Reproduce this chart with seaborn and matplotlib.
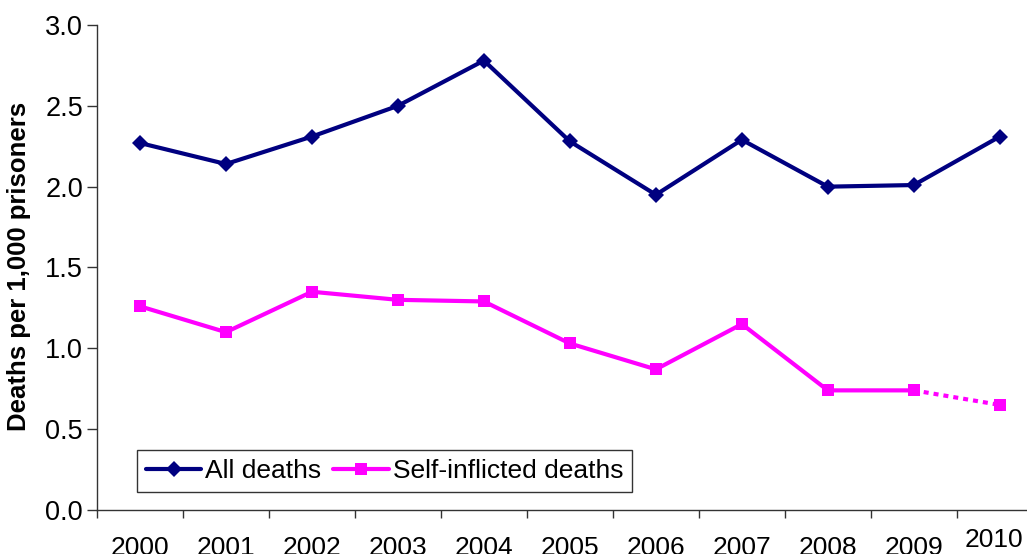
import matplotlib
matplotlib.use("Agg")
import matplotlib.pyplot as plt
import seaborn as sns
import pandas as pd
from matplotlib.lines import Line2D
from matplotlib.ticker import FixedLocator, NullFormatter
import matplotlib.transforms as mtransforms

# Deaths in custody per 1,000 prisoners
years = ["2000", "2001", "2002", "2003", "2004", "2005", "2006", "2007", "2008", "2009", "2010"]
all_deaths = [2.27, 2.14, 2.31, 2.50, 2.78, 2.28, 1.95, 2.29, 2.00, 2.01, 2.31]
self_inflicted = [1.26, 1.10, 1.35, 1.30, 1.29, 1.03, 0.87, 1.15, 0.74, 0.74, 0.65]

NAVY = "#000080"
MAGENTA = "#FF00FF"

sns.set_theme(style="white")
plt.rcParams["font.family"] = ["Liberation Sans", "DejaVu Sans"]

pos = list(range(len(years)))
df = pd.DataFrame({"pos": pos, "year": years,
                   "all": all_deaths, "self": self_inflicted})

fig = plt.figure(figsize=(10.27, 5.54), dpi=100)
ax = fig.add_axes([0.0944, 0.0794, 0.921, 0.8755])

# All deaths: solid line with diamonds
sns.lineplot(data=df, x="pos", y="all", ax=ax, color=NAVY, lw=3,
             marker="D", markersize=8, markeredgewidth=0, legend=False)

# Self-inflicted deaths: solid up to 2009, dotted to the provisional 2010 value
solid = df.iloc[:-1]
tail = df.iloc[-2:]
sns.lineplot(data=solid, x="pos", y="self", ax=ax, color=MAGENTA, lw=3,
             marker="s", markersize=8.5, markeredgewidth=0, legend=False)
sns.lineplot(data=tail, x="pos", y="self", ax=ax, color=MAGENTA, lw=3,
             linestyle=(0, (1.2, 1.2)), legend=False)
ax.plot(tail["pos"].iloc[-1:], tail["self"].iloc[-1:], ls="none", marker="s",
        markersize=8.5, markeredgewidth=0, color=MAGENTA)

ax.set_xlim(-0.5, len(years) - 0.5)
ax.set_ylim(0, 3.0)
yt = [0.0, 0.5, 1.0, 1.5, 2.0, 2.5, 3.0]
ax.set_yticks(yt)
ax.set_yticklabels([f"{v:.1f}" for v in yt])

# Category labels centred, tick marks between categories
ax.set_xticks(pos)
ax.set_xticklabels(years)
ax.xaxis.set_minor_locator(FixedLocator([p + 0.5 for p in pos[:-1]] + [-0.5]))
ax.xaxis.set_minor_formatter(NullFormatter())
ax.tick_params(axis="x", which="major", length=0, pad=19, labelsize=19,
               colors="black")
ax.tick_params(axis="x", which="minor", length=6, width=1, color="#333333",
               direction="out", bottom=True)
ax.tick_params(axis="y", which="major", length=7, width=1, color="#333333",
               direction="out", left=True, pad=3, labelsize=19.5, labelcolor="black")

# the last year label sits a little higher and is nudged in from the edge
lbl = ax.get_xticklabels()[-1]
lbl.set_transform(lbl.get_transform() +
                  mtransforms.ScaledTranslation(-6 / 100, 8 / 100, fig.dpi_scale_trans))

for side in ["top", "right"]:
    ax.spines[side].set_visible(False)
for side in ["left", "bottom"]:
    ax.spines[side].set_color("#333333")
    ax.spines[side].set_linewidth(1)

ax.set_xlabel("")
ax.set_ylabel("Deaths per 1,000 prisoners", fontsize=18.5, fontweight="bold",
              color="black")
ax.yaxis.set_label_coords(-0.07, 0.503)

handles = [
    Line2D([], [], color=NAVY, lw=3, marker="D", markersize=8,
           markeredgewidth=0, label="All deaths"),
    Line2D([], [], color=MAGENTA, lw=3, marker="s", markersize=8.5,
           markeredgewidth=0, label="Self-inflicted deaths"),
]
leg = ax.legend(handles=handles, loc="lower left", bbox_to_anchor=(0.042, 0.037),
                borderaxespad=0, ncol=2, frameon=True, fancybox=False,
                fontsize=19, handlelength=2.1, handletextpad=0.15,
                columnspacing=0.45, borderpad=0.35)
leg.get_frame().set_edgecolor("black")
leg.get_frame().set_linewidth(1)
for t in leg.get_texts():
    t.set_color("black")

fig.savefig("out.png", dpi=100, facecolor="white")
